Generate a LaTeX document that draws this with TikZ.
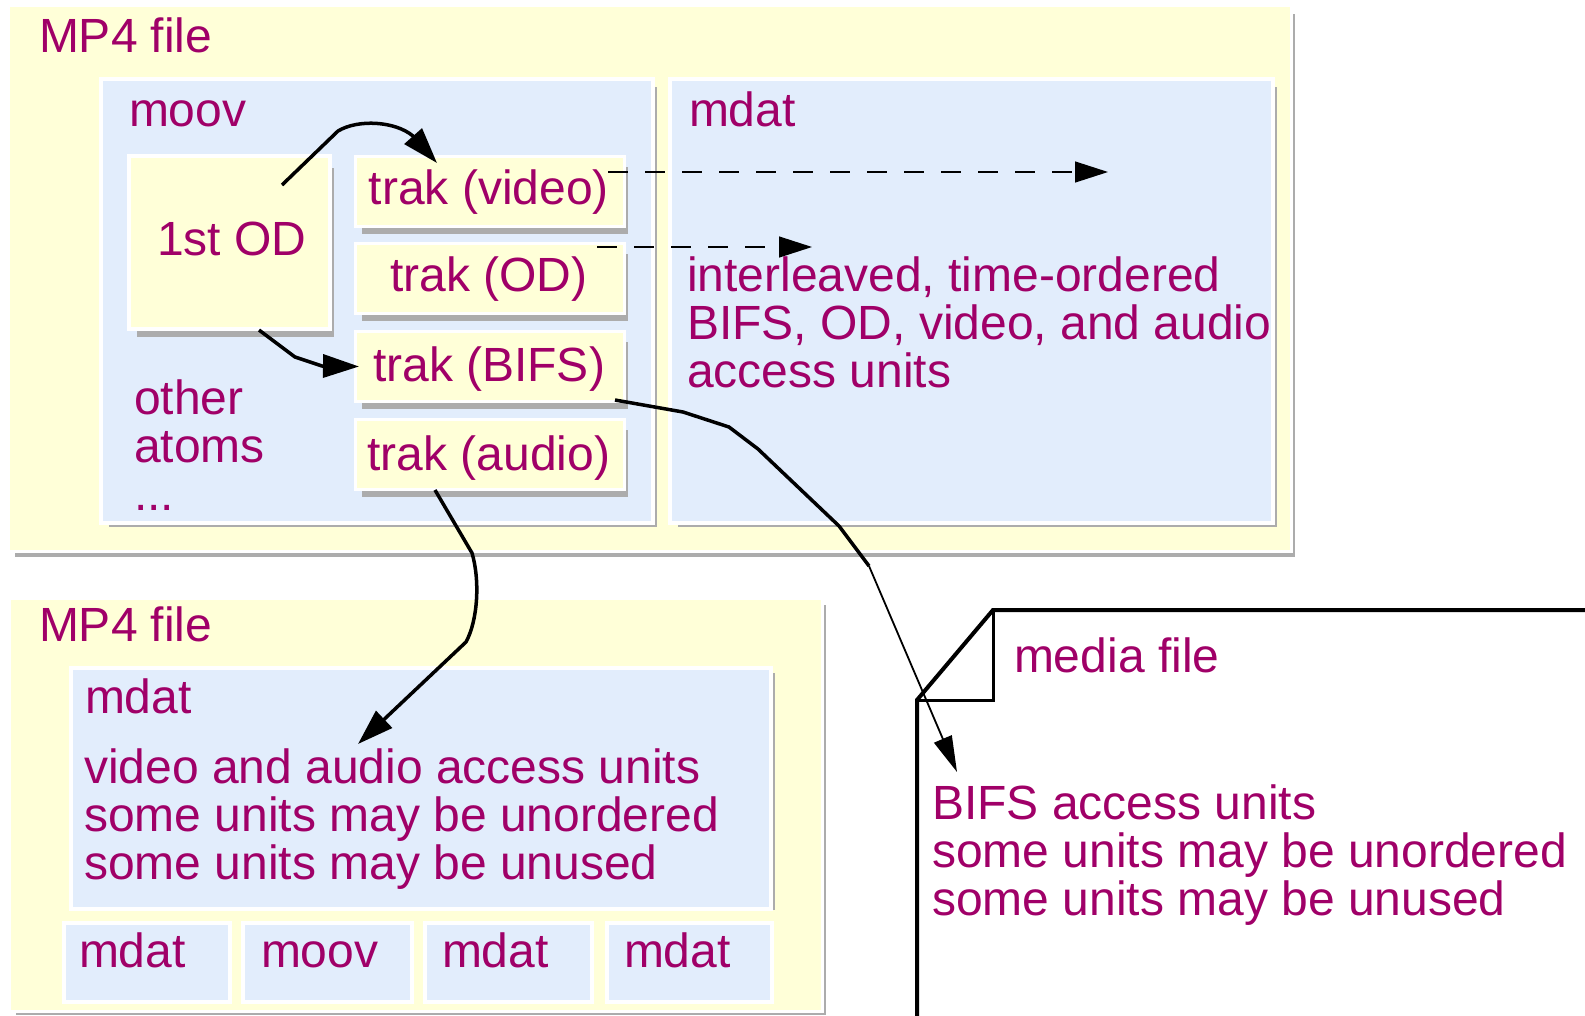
\documentclass[tikz,border=0pt]{standalone}
\usepackage{fontspec}
\setmainfont{Liberation Sans}
\usetikzlibrary{arrows.meta,shadows}

\definecolor{inkmagenta}{RGB}{160,0,104}
\definecolor{paleyellow}{RGB}{255,255,216}
\definecolor{paleblue}{RGB}{226,237,252}
\definecolor{shadowgray}{RGB}{172,172,172}

\tikzset{
  % box: fill colour, white frame width, shadow x / y offset
  atom/.style n args={4}{draw=none, inner sep=0pt, outer sep=0pt, anchor=north west,
    drop shadow={shadow xshift=#3pt, shadow yshift=-#4pt, fill=shadowgray, opacity=1},
    preaction={draw=white, line width=#2},
    fill=#1},
  label/.style={text=inkmagenta, inner sep=0pt, outer sep=0pt, anchor=base west,
    font=\fontsize{48pt}{48pt}\selectfont},
  clabel/.style={label, anchor=base},
  link/.style={line width=3.5pt, line join=round,
    -{Triangle[length=36pt,width=23pt]}},
  thinlink/.style={line width=1.8pt, -{Triangle[length=36pt,width=19pt]}},
  pointer/.style={line width=1.3pt, dash pattern=on 20pt off 17pt,
    -{Triangle[length=33pt,width=21pt]}},
  folder/.style={line width=4pt, line join=miter},
}

\newcommand\linestack[1]{\vtop{#1}}

\begin{document}
\begin{tikzpicture}[x=1pt,y=-1pt]
\useasboundingbox (0,0) rectangle (1585,1015);
\fill[white] (0,0) rectangle (1585,1015);
\clip (0,0) rectangle (1585,1015);

% ---------- upper MP4 file ----------
\node[atom={paleyellow}{6pt}{5}{7}, minimum width=1280pt, minimum height=543pt] (mpTop) at (10,7) {};
\node[atom={paleblue}{8pt}{6}{6}, minimum width=548pt, minimum height=440pt] (moov) at (103,81) {};
\node[atom={paleblue}{8pt}{6}{6}, minimum width=599pt, minimum height=440pt] (mdatTop) at (672,81) {};
\node[atom={paleyellow}{8pt}{6}{10}, minimum width=197pt, minimum height=169pt] (od) at (131,158) {};
\node[atom={paleyellow}{6pt}{5}{9}, minimum width=266pt, minimum height=67pt] (trakV) at (357,158) {};
\node[atom={paleyellow}{6pt}{5}{9}, minimum width=266pt, minimum height=67pt] (trakOD) at (357,245) {};
\node[atom={paleyellow}{6pt}{5}{9}, minimum width=266pt, minimum height=67pt] (trakB) at (357,333) {};
\node[atom={paleyellow}{6pt}{5}{9}, minimum width=266pt, minimum height=67pt] (trakA) at (357,421) {};

\node[label] (mpTopLbl) at (39,52) {MP4 file};
\node[label] (moovLbl) at (129,126) {moov};
\node[label] (odLbl) at (157,255) {1st OD};
\node[label] (otherLbl) at (134,414) {\linestack{\hbox{other}\hbox{atoms}\hbox{...}}};
\node[clabel] (trakVLbl) at (489,204) {trak (video)};
\node[clabel] (trakODLbl) at (489,291) {trak (OD)};
\node[clabel] (trakBLbl) at (489,381) {trak (BIFS)};
\node[clabel] (trakALbl) at (489,470) {trak (audio)};
\node[label] (mdatTopLbl) at (689,126) {mdat};
\node[label] (mdatTopTxt) at (687,291)
  {\linestack{\hbox{interleaved, time-ordered}\hbox{BIFS, OD, video, and audio}\hbox{access units}}};

% ---------- lower MP4 file ----------
\node[atom={paleyellow}{6pt}{5}{5}, minimum width=810pt, minimum height=410pt] (mpBot) at (11,600) {};
\node[atom={paleblue}{8pt}{6}{3}, minimum width=696pt, minimum height=237pt] (mdatBig) at (73,670) {};
\node[atom={paleblue}{8pt}{0}{0}, minimum width=162pt, minimum height=75pt] (boxA) at (66,925) {};
\node[atom={paleblue}{8pt}{0}{0}, minimum width=165pt, minimum height=75pt] (boxB) at (245,925) {};
\node[atom={paleblue}{8pt}{0}{0}, minimum width=163pt, minimum height=75pt] (boxC) at (427,925) {};
\node[atom={paleblue}{8pt}{0}{0}, minimum width=161pt, minimum height=75pt] (boxD) at (609,925) {};

\node[label] (mpBotLbl) at (39,641) {MP4 file};
\node[label] (mdatBigLbl) at (85,713) {mdat};
\node[label] (mdatBigTxt) at (84,783)
  {\linestack{\hbox{video and audio access units}\hbox{some units may be unordered}\hbox{some units may be unused}}};
\node[label] (boxALbl) at (79,967) {mdat};
\node[label] (boxBLbl) at (261,967) {moov};
\node[label] (boxCLbl) at (442,967) {mdat};
\node[label] (boxDLbl) at (624,967) {mdat};

% ---------- media file ----------
\draw[folder] (917,1030) -- (917,700) -- (993,610) -- (1600,610);
\draw[line width=3pt] (917,700) -- (993,700) -- (993,610);
\node[label] (mediaLbl) at (1014,672) {media file};
\node[label] (mediaTxt) at (932,819)
  {\linestack{\hbox{BIFS access units}\hbox{some units may be unordered}\hbox{some units may be unused}}};

% ---------- connectors ----------
\coordinate (vidData) at (1108,172);
\coordinate (odData) at (812,247);
\coordinate (bifsBend) at (869,566);
\coordinate (bifsTip) at (957,772);
\coordinate (audioTip) at (358,744);

\draw[link] ([shift={(151,27)}]od.north west) -- (338,131)
  .. controls (358,119) and (395,121) .. (413,136) -- ([shift={(80,5)}]trakV.north west);
\draw[link] ([shift={(128,3)}]od.south west) -- (295,357) -- (322,366) -- ([xshift=2pt]trakB.west);
\draw[pointer] ([shift={(-15,14)}]trakV.north east) -- (vidData);
\draw[pointer] ([shift={(-26,2)}]trakOD.north east) -- (odData);
\draw[line width=3.5pt, line join=round] ([xshift=-8pt]trakB.south east) -- (683,412) -- (729,427)
  -- (758,449) -- (839,526) -- (bifsBend);
\draw[thinlink] (bifsBend) -- (bifsTip);
\draw[link] ([shift={(-55,2)}]trakA.south) -- (472,553)
  .. controls (480,580) and (478,620) .. (466,642) -- (audioTip);
\end{tikzpicture}
\end{document}
